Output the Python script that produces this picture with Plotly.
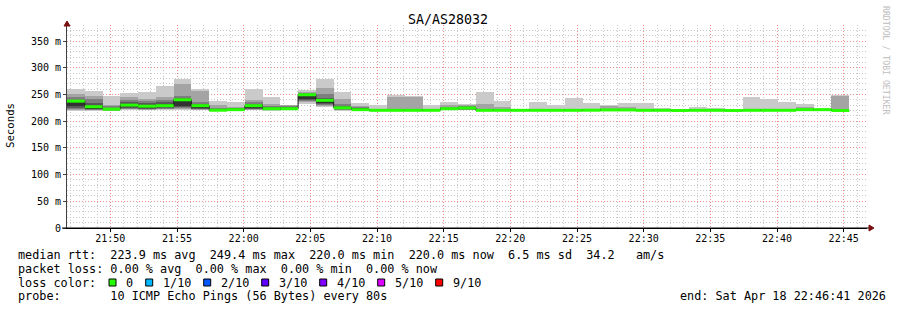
import plotly.graph_objects as go
from datetime import datetime, timedelta

# ---------------- data ----------------
TITLE = "SA/AS28032"
STEP_SECONDS = 80
FIRST_STEP = "2026-04-18 21:46:45"
RANGE_START = "2026-04-18 21:46:45"
RANGE_END = "2026-04-18 22:46:45"

# sorted ping RTTs (ms) per 80 s step, rank 1 (fastest) .. rank 10 (slowest)
ping_1 = [219.5, 219, 219, 221, 220, 221, 221, 220, 219.5, 220, 220, 219.5, 220, 232, 227, 219.5, 220, 219.5, 219.5, 219.5, 219.5, 220,
          220, 219.5, 219.5, 219.5, 219.5, 219.5, 219.5, 219.5, 219.5, 219.5, 219.5, 219.5, 219.5, 219.5, 219.5, 219.5, 219.5, 219.5, 219.5, 219.5, 219.5, 219.5]
ping_2 = [221, 220, 219.5, 222, 221, 222, 223, 221, 220, 220.5, 221, 220, 220.5, 236, 229, 220.5, 220.5, 219.8, 219.8, 219.8, 219.8, 220.5,
          220.5, 219.8, 219.8, 219.7, 219.8, 219.8, 219.8, 219.8, 220, 220, 219.8, 219.8, 219.7, 219.8, 219.8, 219.7, 219.8, 219.8, 219.8, 220, 220, 219.8]
ping_3 = [223, 221, 220, 223, 222, 223, 225, 222, 220.3, 221, 222, 221, 221, 238, 231, 221.5, 221, 220, 220, 220, 220, 221,
          221, 220, 220, 219.9, 220, 220, 220, 220, 220.2, 220.2, 220, 220, 219.8, 220, 220, 219.8, 220, 220, 220, 220.5, 220.5, 220]
ping_4 = [225, 222, 220.5, 224.5, 223, 224, 227, 223.5, 220.6, 221.3, 223, 222, 221.5, 240, 233, 222.5, 221.5, 220.2, 220.2, 220.2, 220.2, 221.5,
          222, 220.2, 220.2, 220, 220.2, 220.2, 220.2, 220.2, 220.4, 220.4, 220.2, 220.2, 219.9, 220.2, 220.2, 219.9, 220.2, 220.2, 220.2, 221, 221, 220.2]
ping_5 = [228, 223, 221, 226, 225, 226, 229, 225, 221, 221.6, 225, 222.5, 222, 242, 234, 223.5, 222, 220.4, 220.4, 220.4, 220.4, 222,
          223, 220.4, 220.4, 220.1, 220.4, 220.4, 220.4, 220.4, 220.6, 220.6, 220.4, 220.4, 220, 220.4, 220.4, 220, 220.4, 220.4, 220.4, 221.5, 221.5, 220.4]
ping_6 = [236, 229, 223, 233, 230, 232, 238, 230, 222, 222, 230, 224, 224, 249, 240, 226, 223, 220.6, 220.6, 220.6, 220.6, 224,
          225, 220.6, 220.6, 220.2, 220.6, 220.6, 220.6, 220.6, 221, 221, 220.6, 220.6, 220.1, 220.6, 220.6, 220.1, 220.6, 220.6, 220.6, 222, 222, 220.6]
ping_7 = [240, 234, 225, 236, 234, 235, 243, 233, 223, 223, 232, 226, 226, 251, 244, 229, 224, 221, 221, 221, 221, 225,
          226, 221, 221, 220.4, 221, 221, 221, 221, 221.5, 221.5, 221, 221, 220.2, 221, 221, 220.2, 221, 221, 221, 222.5, 222.5, 221]
ping_8 = [245, 242, 228, 240, 238, 239, 248, 236, 225, 224, 235, 229, 228, 253, 251, 233, 226, 221.5, 221.5, 221.5, 221.5, 227,
          228, 222, 221.5, 220.6, 221.5, 221.5, 221.5, 221.5, 222, 222, 221.5, 221.5, 220.3, 221.5, 221.5, 220.3, 221.5, 221.5, 221.5, 223, 223, 221.5]
ping_9 = [251, 248, 230, 245, 242, 245, 270, 257, 229.6, 226, 239, 233, 230, 255, 262, 242, 229, 222, 245, 245, 222, 230,
          229.6, 231.5, 226.5, 220.8, 223.3, 222, 222, 222, 229, 226.5, 222, 222, 220.4, 222, 222, 220.4, 222, 222, 222, 226.5, 223.5, 247]
ping_10 = [261, 256, 247, 253, 254.5, 266, 279.5, 261, 238, 236, 261, 245, 231, 258, 279.5, 254.5, 234, 229.6, 249.5, 247, 230.8, 236,
           231.5, 254.5, 237.7, 221.5, 235.8, 230.2, 243.3, 234, 230, 234, 234, 224.6, 220.6, 227, 224.6, 220.6, 245.8, 242, 236, 232, 224.6, 249.5]
median_rtt = [237.5, 227, 222.5, 230, 228, 229, 240, 229, 220.5, 221.5, 229, 223.3, 223.3, 249.4, 239, 225, 221.5, 220.3, 220.3, 220.3, 220.3, 223.3,
              224.6, 220.3, 220.3, 220.3, 220.3, 220.3, 220.3, 220.5, 221, 221, 220.3, 220.3, 220.0, 220.3, 220.3, 220.0, 220.3, 220.3, 220.3, 221.5, 221.5, 220.0]

y_tickvals = [0, 50, 100, 150, 200, 250, 300, 350]
y_ticktext = ["0", "50 m", "100 m", "150 m", "200 m", "250 m", "300 m", "350 m"]

legend_lines = [
    "median rtt:  223.9 ms avg  249.4 ms max  220.0 ms min  220.0 ms now  6.5 ms sd  34.2   am/s",
    "packet loss: 0.00 % avg  0.00 % max  0.00 % min  0.00 % now",
    "loss color:",
    "probe:       10 ICMP Echo Pings (56 Bytes) every 80s",
]
loss_labels = ["0", "1/10", "2/10", "3/10", "4/10", "5/10", "9/10"]
loss_colors = ["#26ff00", "#00b8ff", "#0059ff", "#5e00ff", "#7e00ff", "#dd00ff", "#ff0000"]
end_text = "end: Sat Apr 18 22:46:41 2026"
watermark = "RRDTOOL / TOBI OETIKER"

# ---------------- layout constants ----------------
W, H = 897, 310
L, R, T, B = 67, 30, 25, 82
PW, PH = W - L - R, H - T - B
MONO = "DejaVu Sans Mono"
SMOKE_GRAYS = ["#cacaca", "#a4a4a4", "#7e7e7e", "#585858", "#323232"]


def px(x):
    return (x - L) / PW


def py(y):
    return (T + PH - y) / PH


t0 = datetime.strptime(FIRST_STEP, "%Y-%m-%d %H:%M:%S")
n = len(median_rtt)
step = timedelta(seconds=STEP_SECONDS)
starts = [t0 + step * k for k in range(n)]
centers = [s + step / 2 for s in starts]
width_ms = STEP_SECONDS * 1000

pings = [ping_1, ping_2, ping_3, ping_4, ping_5, ping_6, ping_7, ping_8, ping_9, ping_10]

fig = go.Figure()
for i in range(5):
    lo = pings[i]
    hi = pings[9 - i]
    fig.add_trace(go.Bar(
        x=centers, base=lo, y=[h - l for h, l in zip(hi, lo)], width=width_ms,
        marker=dict(color=SMOKE_GRAYS[i], line=dict(width=0)),
        hoverinfo="skip", showlegend=False))

# thin dark median outline (step line, with vertical joins)
fig.add_trace(go.Scatter(
    x=starts + [starts[-1] + step],
    y=median_rtt + [median_rtt[-1]], mode="lines",
    line=dict(color="#202020", width=1, shape="hv"),
    hoverinfo="skip", showlegend=False))

# median coloured by loss (all 0 loss -> green), horizontal pieces only
gx, gy = [], []
for s, m in zip(starts, median_rtt):
    gx += [s, s + step, None]
    gy += [m, m, None]
fig.add_trace(go.Scatter(
    x=gx, y=gy, mode="lines", connectgaps=False,
    line=dict(color=loss_colors[0], width=3),
    hoverinfo="skip", showlegend=False))

MINOR_GRID = "#c8c8c8"
MAJOR_GRID = "#f08c8c"
DOTS = "1px,2px"

fig.update_layout(
    width=W, height=H, margin=dict(l=L, r=R, t=T, b=B),
    paper_bgcolor="white", plot_bgcolor="white",
    barmode="overlay", bargap=0, showlegend=False,
    font=dict(family=MONO, size=10, color="black"),
    xaxis=dict(
        type="date", range=[RANGE_START, RANGE_END],
        tickformat="%H:%M", dtick=300000, tick0="2026-04-18 21:50:00",
        showgrid=True, gridcolor=MAJOR_GRID, griddash=DOTS, gridwidth=1,
        minor=dict(dtick=60000, tick0="2026-04-18 21:50:00", showgrid=True,
                   gridcolor=MINOR_GRID, griddash=DOTS, ticks=""),
        showline=True, linecolor="black", linewidth=1,
        ticks="outside", ticklen=3, tickcolor="black", ticklabelstandoff=-2,
        tickfont=dict(family=MONO, size=10, color="black"),
        zeroline=False, fixedrange=True,
    ),
    yaxis=dict(
        range=[0, 380], tickmode="array", tickvals=y_tickvals, ticktext=y_ticktext,
        showgrid=True, gridcolor=MAJOR_GRID, griddash=DOTS, gridwidth=1,
        minor=dict(tickmode="linear", dtick=10, tick0=0, showgrid=True,
                   gridcolor=MINOR_GRID, griddash=DOTS, ticks=""),
        showline=True, linecolor="#404040", linewidth=1,
        ticks="outside", ticklen=3, tickcolor="#404040",
        tickfont=dict(family=MONO, size=10, color="black"),
        zeroline=False, fixedrange=True,
    ),
)

ann = []
ann.append(dict(text=TITLE, x=px(448), y=py(19), font=dict(family=MONO, size=13.3, color="black"),
                xanchor="center", yanchor="middle"))
ann.append(dict(text="Seconds", x=px(11), y=py(125), textangle=-90,
                font=dict(family=MONO, size=10.7, color="black"), xanchor="center", yanchor="middle"))
ann.append(dict(text=watermark, x=px(886), y=py(60), textangle=90,
                font=dict(family=MONO, size=8.2, color="#bdbdbd"), xanchor="center", yanchor="middle"))

line_y = [255, 268.5, 282.5, 296]
for txt, yy in zip(legend_lines, line_y):
    ann.append(dict(text=txt.replace(" ", "&nbsp;"), x=px(16), y=py(yy),
                    font=dict(family=MONO, size=11.8, color="black"),
                    xanchor="left", yanchor="middle"))
ann.append(dict(text=end_text.replace(" ", "&nbsp;"), x=px(888), y=py(296),
                font=dict(family=MONO, size=11.8, color="black"), xanchor="right", yanchor="middle"))

shapes = []
CHAR_W = 7.1
xs = 109.0
for lab, col in zip(loss_labels, loss_colors):
    shapes.append(dict(type="rect", xref="paper", yref="paper",
                       x0=px(xs), x1=px(xs + 7), y0=py(286), y1=py(279),
                       fillcolor=col, line=dict(color="black", width=1)))
    ann.append(dict(text=lab, x=px(xs + 15), y=py(282.5), font=dict(family=MONO, size=11.8, color="black"),
                    xanchor="left", yanchor="middle"))
    xs = xs + 15 + len(lab) * CHAR_W + 14.6

for a in ann:
    a.update(xref="paper", yref="paper", showarrow=False)

# axis extension and arrows
shapes.append(dict(type="line", xref="paper", yref="paper", x0=px(62), x1=px(870), y0=py(228), y1=py(228),
                   line=dict(color="black", width=1)))
shapes.append(dict(type="path", xref="paper", yref="paper",
                   path=f"M {px(869)} {py(225)} L {px(874)} {py(228)} L {px(869)} {py(231)} Z",
                   fillcolor="#7a1010", line=dict(color="#7a1010", width=1)))
shapes.append(dict(type="path", xref="paper", yref="paper",
                   path=f"M {px(64)} {py(26)} L {px(67)} {py(21)} L {px(70)} {py(26)} Z",
                   fillcolor="#7a1010", line=dict(color="#7a1010", width=1)))

fig.update_layout(annotations=ann, shapes=shapes)
fig.write_html("out.html")
